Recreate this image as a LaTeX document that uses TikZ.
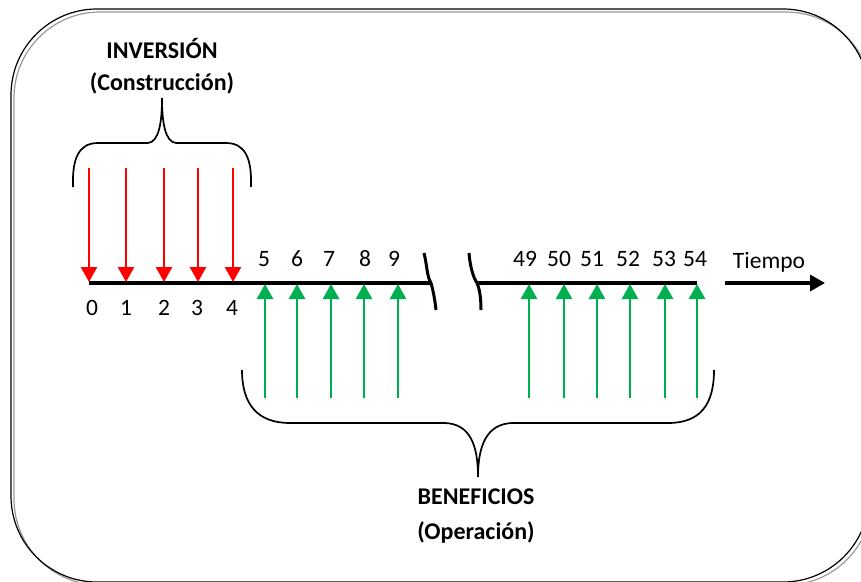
\documentclass[tikz,border=0pt]{standalone}
\usepackage{fontspec}
\setmainfont{Carlito}
\usetikzlibrary{arrows.meta}
\definecolor{costred}{HTML}{FF0000}
\definecolor{benefitgreen}{HTML}{00B050}
\begin{document}
\begin{tikzpicture}[x=1pt,y=-1pt,
  title/.style={font=\fontsize{24}{28}\selectfont\bfseries, inner sep=0pt},
  num/.style={font=\fontsize{23.5}{27}\selectfont, inner sep=0pt},
  costarrow/.style={draw=costred, line width=2.6pt, -{Triangle[width=16pt,length=15pt]}},
  benefitarrow/.style={draw=benefitgreen, line width=2.6pt, -{Triangle[width=16pt,length=15pt]}},
  axis/.style={line width=3.5pt},
  cut/.style={line width=3pt},
  brace/.style={line width=1.7pt},
  ]
\useasboundingbox (0,0) rectangle (861,581);
\clip (0,0) rectangle (861,581);

% frame with a soft grey shadow line
\draw[black!40, line width=1.2pt, rounded corners=86pt] (14,12) rectangle (872,585);
\draw[black, line width=1.2pt, rounded corners=86pt] (11,9) rectangle (869,582);

% time axis, split in two parts
\coordinate (ax0) at (89,283);
\coordinate (ax1) at (431,283);
\coordinate (ax2) at (477,283);
\coordinate (ax3) at (697,283);
\draw[axis] (ax0) -- (ax1);
\draw[axis] (ax2) -- (ax3);

% break marks
\draw[cut] (424,253) .. controls (427,265) and (427,277) .. (ax1)
           .. controls (433,290) and (435,300) .. (436,310);
\draw[cut] (469,253) .. controls (470,266) and (473,277) .. (ax2)
           .. controls (480,290) and (481,300) .. (481,310);

% investment outflows (red) with their period labels
\foreach \i/\x in {0/89,1/126,2/164,3/198,4/233} {
  \coordinate (c\i top) at (\x,168);
  \coordinate (c\i) at (\x,282);
  \draw[costarrow] (c\i top) -- (c\i);
}
\node[num] (n0) at (92,308) {0};
\node[num] (n1) at (126,308) {1};
\node[num] (n2) at (164,308) {2};
\node[num] (n3) at (197,308) {3};
\node[num] (n4) at (232,308) {4};

% operating benefits (green) with their period labels
\foreach \i/\x in {5/265,6/297,7/331,8/364,9/398,49/529,50/564,51/597,52/630,53/665,54/697} {
  \coordinate (b\i low) at (\x,398);
  \coordinate (b\i) at (\x,284);
  \draw[benefitarrow] (b\i low) -- (b\i);
}
\node[num] (n5) at (264,259) {5};
\node[num] (n6) at (297,259) {6};
\node[num] (n7) at (329,259) {7};
\node[num] (n8) at (365,259) {8};
\node[num] (n9) at (394,259) {9};
\node[num] (n49) at (525,259) {49};
\node[num] (n50) at (559,259) {50};
\node[num] (n51) at (592,259) {51};
\node[num] (n52) at (628,259) {52};
\node[num] (n53) at (664,259) {53};
\node[num] (n54) at (695,259) {54};

% time direction
\node[num] (tiempo) at (769,262) {Tiempo};
\coordinate (t0) at (725,283);
\coordinate (t1) at (825,283);
\draw[line width=3.5pt, -{Triangle[width=16pt,length=15pt]}] (t0) -- (t1);

% construction brace and title
\draw[brace] (73,187) .. controls (72,158) and (79,143) .. (98,143) -- (148,143)
             .. controls (159,142) and (162,122) .. (162,98)
             .. controls (162,122) and (165,142) .. (176,143) -- (226,143)
             .. controls (245,143) and (252,158) .. (251,187);
\node[title] (inv) at (162,49) {INVERSIÓN};
\node[title] (constr) at (162,83) {(Construcción)};

% operation brace and title
\draw[brace] (242,370) .. controls (242,405) and (258,423) .. (290,423) -- (445,423)
             .. controls (470,424) and (478,445) .. (478,477)
             .. controls (478,445) and (487,424) .. (512,423) -- (668,423)
             .. controls (700,423) and (714,405) .. (714,370);
\node[title] (ben) at (476,497) {BENEFICIOS};
\node[title] (oper) at (476,532) {(Operación)};
\end{tikzpicture}
\end{document}
